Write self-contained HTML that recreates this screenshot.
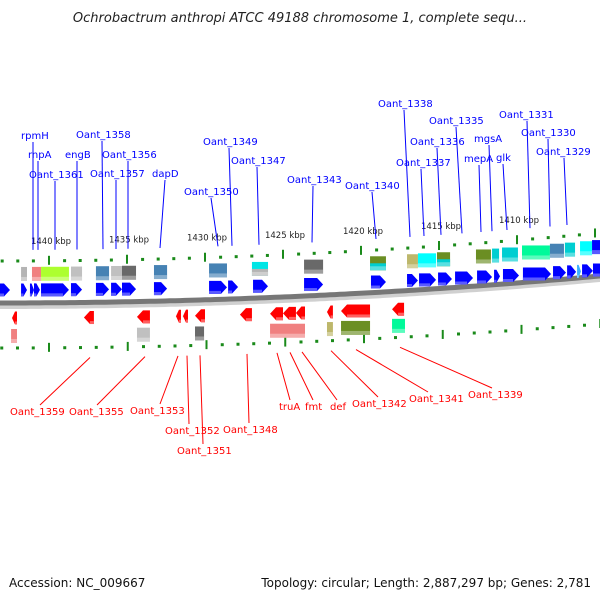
<!DOCTYPE html>
<html><head><meta charset="utf-8"><style>
html,body{margin:0;padding:0;background:#fff;}
svg{display:block;font-family:"DejaVu Sans","Liberation Sans",sans-serif;}
</style></head><body>
<svg id="map" width="600" height="600" viewBox="0 0 600 600" xmlns="http://www.w3.org/2000/svg">
<rect width="600" height="600" fill="#fff"/>
<text x="300" y="22" text-anchor="middle" font-size="13" font-style="italic" fill="#222">Ochrobactrum anthropi ATCC 49188 chromosome 1, complete sequ...</text>
<text x="9" y="587" font-size="12" fill="#111">Accession: NC_009667</text>
<text x="591" y="587" text-anchor="end" font-size="12" fill="#111">Topology: circular; Length: 2,887,297 bp; Genes: 2,781</text>
<g id="layer"></g>
</svg>
<script>
// ---- data (positions in kbp) ----
const fwdStarts=[1443.14,1441.79,1441.22,1440.96,1440.51,1438.59,1436.99,1436.02,1435.32,1433.27,1429.74,1428.52,1426.92,1423.65,1419.36,1417.05,1416.28,1415.06,1413.97,1412.56,1411.47,1410.90,1409.62,1407.69,1406.79,1406.15,1405.83,1405.13];
const fwdEnds=[1442.50,1441.41,1440.96,1440.58,1438.72,1437.88,1436.15,1435.32,1434.42,1432.43,1428.59,1427.88,1425.96,1422.43,1418.40,1416.35,1415.19,1414.17,1412.82,1411.60,1411.09,1409.87,1407.82,1406.86,1406.21,1405.90,1405.13,1404.3];
const fwdColors=["#00f","#00f","#00f","#00f","#00f","#00f","#00f","#00f","#00f","#00f","#00f","#00f","#00f","#00f","#00f","#00f","#00f","#00f","#00f","#00f","#00f","#00f","#00f","#00f","#00f","#3ab0ff","#00f","#00f"];
const revStarts=[1442.37,1437.76,1434.36,1431.86,1431.41,1430.64,1427.76,1425.83,1425.00,1424.17,1422.18,1421.28,1418.01];
const revEnds=[1442.05,1437.12,1433.53,1431.54,1431.09,1430.00,1426.99,1425.00,1424.17,1423.59,1421.80,1419.42,1417.24];
const topBoxStarts=[1441.79,1441.09,1440.51,1438.59,1436.99,1436.02,1435.32,1433.27,1429.74,1426.99,1423.65,1419.42,1417.05,1416.35,1415.13,1412.63,1411.60,1410.96,1409.68,1407.89,1406.93,1405.96,1405.19];
const topBoxEnds=[1441.41,1440.51,1438.72,1437.88,1436.15,1435.32,1434.42,1432.43,1428.59,1425.96,1422.43,1418.40,1416.35,1415.19,1414.29,1411.67,1411.15,1409.94,1407.89,1406.99,1406.28,1405.19,1404.3];
const topBoxColors=["#b4b4b4","#f08080","#adff2f","#c0c0c0","#4682b4","#c0c0c0","#696969","#4682b4","#4682b4","#00e5e5","#696969","#6b8e23","#bdb76b","#00ffff","#6b8e23","#6b8e23","#00ced1","#00ced1","#00fa9a","#4682b4","#00ced1","#00ffff","#0000ff"];
const topBoxLower=["","","","","","","","","","#b4b4b4","","#00ced1","","","#00ced1","","","","","","","",""];
const botBoxStarts=[1442.43,1434.36,1430.64,1425.83,1422.18,1421.28,1418.01];
const botBoxEnds=[1442.05,1433.53,1430.06,1423.59,1421.80,1419.42,1417.18];
const botBoxColors=["#f08080","#c0c0c0","#696969","#f08080","#bdb76b","#6b8e23","#00fa9a"];
const tickMajor=[1445,1440,1435,1430,1425,1420,1415,1410,1405,1400];
const tickLabels=["1440 kbp","1435 kbp","1430 kbp","1425 kbp","1420 kbp","1415 kbp","1410 kbp"];
const tickLabelKbp=[1440,1435,1430,1425,1420,1415,1410];
const topNames=["rpmH","rnpA","Oant_1361","engB","Oant_1358","Oant_1356","Oant_1357","dapD","Oant_1349","Oant_1347","Oant_1350","Oant_1343","Oant_1340","Oant_1338","Oant_1337","Oant_1336","Oant_1335","mepA","mgsA","glk","Oant_1331","Oant_1330","Oant_1329"];
const topTX=[21,28,29,65,76,102,90,152,203,231,184,287,345,378,396,410,429,464,474,496,499,521,536];
const topTY=[139,158,178,158,138,158,177,177,145,164,195,183,189,107,166,145,124,162,142,161,118,136,155];
const topLX1=[33,38,55,77,102,128,116,165,229,257,211,313,372,404,421,437,456,479,489,503,527,548,564];
const topLX2=[33,38,55,77,103,128,116,160,232,259,218,312,376,410,424,441,462,481,492,507,530,550,567];
const botNames=["Oant_1359","Oant_1355","Oant_1353","Oant_1352","Oant_1351","Oant_1348","truA","fmt","def","Oant_1342","Oant_1341","Oant_1339"];
const botTX=[10,69,130,165,177,223,279,305,330,352,409,468];
const botTY=[415,415,414,434,454,433,410,410,410,407,402,398];
const botLX1=[90,145,178,187,200,247,277,290,302,331,356,400];
const botLX2=[40,97,160,189,203,249,290,313,337,378,428,492];

// ---- scales ----
const xs=k=>(1443.14-k)/0.0641;
const xb=k=>49+(1440-k)*15.75;
const curve=(y0,d,x)=>y0+d*Math.pow(x/600,2);
const NS="http://www.w3.org/2000/svg";
const layer=document.getElementById('layer');
function mk(tag,attrs){const e=document.createElementNS(NS,tag);for(const k in attrs)e.setAttribute(k,attrs[k]);layer.appendChild(e);return e;}

let bp="",bp2="";
for(let x=-5;x<=605;x+=5){bp+=(x<0?"M":"L")+x+","+curve(303,-27,x).toFixed(1);bp2+=(x<0?"M":"L")+x+","+(curve(303,-27,x)+4).toFixed(1);}
const bb2=mk('path',{d:bp2,stroke:"#d0d0d0",'stroke-width':4,fill:"none"});


const bb=mk('path',{d:bp,stroke:"#777",'stroke-width':5,fill:"none"});



function ticks(scale,y0,d,name){
  for(let k=1446;k>=1403;k--){
    const x=scale(k); if(x<-2||x>602) continue;
    const y=curve(y0,d,x);
    const major=tickMajor.indexOf(k)>=0;
    const t=major?mk('rect',{x:x-1,y:y-5,width:2,height:9,fill:"#1a8a1a"}):mk('rect',{x:x-1.5,y:y-1.5,width:3,height:3,fill:"#1a8a1a"});
    
    
  }
}
ticks(xs,261,-28,'top');
ticks(xb,348,-24,'bottom');
tickLabelKbp.forEach((k,i)=>{
  const x=xs(k);
  const t=mk('text',{x:x-18,y:curve(244,-28,x),'font-size':8.5,fill:"#222"});
  t.textContent=tickLabels[i];
  
  
});

function arrow(x1,x2,yc,h,fill,low,dir){
  const w=Math.abs(x2-x1), hd=Math.min(6,w*0.6);
  let pts;
  if(dir>0) pts=[[x1,yc-h/2],[x2-hd,yc-h/2],[x2,yc],[x2-hd,yc+h/2],[x1,yc+h/2]];
  else pts=[[x2,yc-h/2],[x1+hd,yc-h/2],[x1,yc],[x1+hd,yc+h/2],[x2,yc+h/2]];
  const p=mk('polygon',{points:pts.map(q=>q.join(',')).join(' '),fill:fill});
  
  
  const s=mk('rect',{x:Math.min(x1,x2)+(dir<0?hd:0),y:yc+h/2-3,width:Math.max(0,w-hd),height:3,fill:low,opacity:0.85});
  
  
}
fwdStarts.forEach((s,i)=>{
  const x1=xs(s),x2=xs(fwdEnds[i]);
  arrow(x1,x2,curve(290,-20,(x1+x2)/2),13,fwdColors[i],fwdColors[i]==="#00f"?"#6a6aff":"#8fd4ff",1);
});
revStarts.forEach((s,i)=>{
  const x1=xs(s),x2=xs(revEnds[i]);
  arrow(x1,x2,curve(318,-20,(x1+x2)/2),13,"#f00","#ff7070",-1);
});
function box(x1,x2,yc,h,c,lower,name){
  const b=mk('rect',{x:x1,y:yc-h/2,width:x2-x1,height:h,fill:c});
  
  
  if(lower){const l=mk('rect',{x:x1,y:yc,width:x2-x1,height:h/2,fill:lower});
    
    }
  const s=mk('rect',{x:x1,y:yc+h/2-4,width:x2-x1,height:4,fill:"#fff",opacity:0.35});
  
  
}
topBoxStarts.forEach((s,i)=>{
  const x1=xs(s),x2=xs(topBoxEnds[i]);
  box(x1,x2,curve(274,-27,(x1+x2)/2),14,topBoxColors[i],topBoxLower[i],'feature-box-top');
});
botBoxStarts.forEach((s,i)=>{
  const x1=xs(s),x2=xs(botBoxEnds[i]);
  box(x1,x2,curve(336,-23,(x1+x2)/2),14,botBoxColors[i],"",'feature-box-bottom');
});

topNames.forEach((n,i)=>{
  const l=mk('line',{x1:topLX1[i],y1:topTY[i]+3,x2:topLX2[i],y2:curve(250,-28,topLX2[i]),stroke:"#00f",'stroke-width':1});
  
  
  const t=mk('text',{x:topTX[i],y:topTY[i],'font-size':10,fill:"#00f"});
  t.textContent=n;
  
  
});
botNames.forEach((n,i)=>{
  const l=mk('line',{x1:botLX1[i],y1:curve(358,-24,botLX1[i]),x2:botLX2[i],y2:botTY[i]-10,stroke:"#f00",'stroke-width':1});
  
  
  const t=mk('text',{x:botTX[i],y:botTY[i],'font-size':10,fill:"#f00"});
  t.textContent=n;
  
  
});
</script>
</body></html>
